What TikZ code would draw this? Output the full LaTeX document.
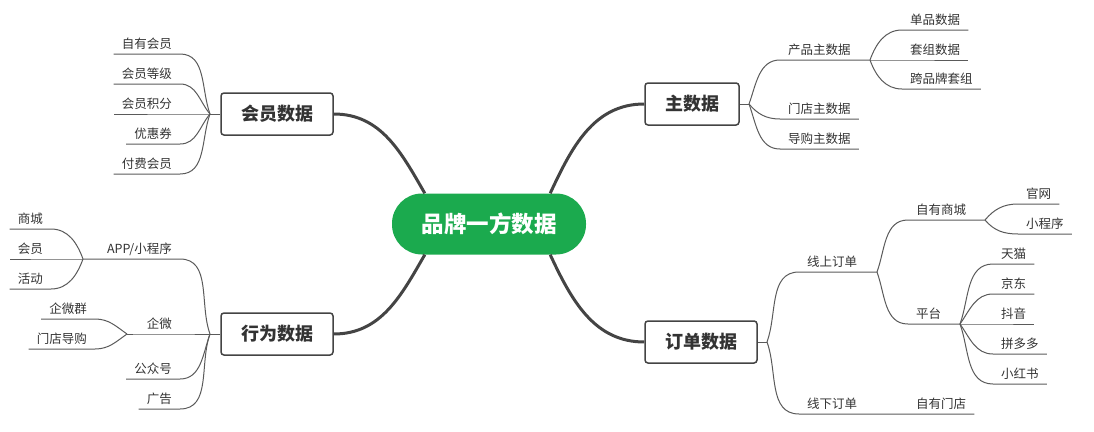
\documentclass[tikz,border=0pt]{standalone}
\usepackage{fontspec}
\setmainfont{Noto Sans CJK SC}
\definecolor{brandgreen}{RGB}{27,170,78}
\definecolor{trunkgray}{RGB}{68,68,68}
\definecolor{linegray}{RGB}{90,90,90}
\definecolor{textgray}{RGB}{51,51,51}
\begin{document}
\begin{tikzpicture}[x=1pt,y=1pt]
\useasboundingbox (0,0) rectangle (1094,-431);

\tikzset{root/.style = {fill=brandgreen, text=white, rounded corners=30pt, minimum width=194pt, minimum height=61pt, font=\bfseries\fontsize{22.5}{26}\selectfont}}
\tikzset{topic/.style = {draw=trunkgray, line width=1.5pt, fill=white, rounded corners=3pt, inner xsep=20pt, minimum height=42pt, text=textgray, font=\bfseries\fontsize{18}{21}\selectfont}}
\tikzset{leaf/.style = {inner xsep=8pt, inner ysep=3.75pt, text height=9pt, text depth=1.5pt, text=textgray, font=\fontsize{12.5}{15}\selectfont}}
\tikzset{lleaf/.style = {leaf, anchor=south east}}
\tikzset{rleaf/.style = {leaf, anchor=south west}}
\tikzset{trunk/.style = {draw=trunkgray, line width=3pt}}
\tikzset{branch/.style = {draw=linegray, line width=1pt}}
\tikzset{lup/.style = {out=110, in=0}}
\tikzset{ldown/.style = {out=-110, in=0}}
\tikzset{rup/.style = {out=70, in=180}}
\tikzset{rdown/.style = {out=-70, in=180}}

% main topics
\node[root] (root) at (489,-224) {品牌一方数据};
\node[topic] (member) at (277,-114) {会员数据};
\node[topic] (master) at (692,-104) {主数据};
\node[topic] (behavior) at (277,-334) {行为数据};
\node[topic] (order) at (701,-342) {订单数据};

% junctions
\coordinate (jmember) at (210,-114);
\coordinate (jmaster) at (749,-104);
\coordinate (jproduct) at (870,-60);
\coordinate (jbehavior) at (210,-334);
\coordinate (japp) at (83,-259);
\coordinate (jwecom) at (127,-334);
\coordinate (jorder) at (767,-342);
\coordinate (jonline) at (877,-272);
\coordinate (jownmall) at (985,-220);
\coordinate (jplatform) at (960,-324);

% member leaves
\node[lleaf] (ownmem) at (180,-54) {自有会员};
\node[lleaf] (level) at (180,-84) {会员等级};
\node[lleaf] (points) at (180,-114) {会员积分};
\node[lleaf] (coupon) at (180,-144) {优惠券};
\node[lleaf] (paid) at (180,-174) {付费会员};

% master leaves
\node[rleaf] (product) at (780,-60) {产品主数据};
\node[rleaf] (store) at (780,-119) {门店主数据};
\node[rleaf] (guide) at (780,-149) {导购主数据};
\node[rleaf] (single) at (902,-30) {单品数据};
\node[rleaf] (combo) at (902,-60) {套组数据};
\node[rleaf] (cross) at (902,-89) {跨品牌套组};

% behavior leaves
\node[lleaf] (app) at (180,-259) {APP/小程序};
\node[lleaf] (wecom) at (180,-334) {企微};
\node[lleaf] (official) at (180,-379) {公众号};
\node[lleaf] (ads) at (180,-409) {广告};
\node[lleaf] (mall) at (51,-229) {商城};
\node[lleaf] (memb) at (51,-259) {会员};
\node[lleaf] (event) at (51,-289) {活动};
\node[lleaf] (wgroup) at (95,-319) {企微群};
\node[lleaf] (wguide) at (95,-349) {门店导购};

% order leaves
\node[rleaf] (online) at (799,-272) {线上订单};
\node[rleaf] (offline) at (799,-414) {线下订单};
\node[rleaf] (ownstore) at (908,-414) {自有门店};
\node[rleaf] (ownmall) at (908,-220) {自有商城};
\node[rleaf] (platform) at (908,-324) {平台};
\node[rleaf] (web) at (1018,-204) {官网};
\node[rleaf] (mini) at (1018,-234) {小程序};
\node[rleaf] (tmall) at (993,-264) {天猫};
\node[rleaf] (jd) at (993,-294) {京东};
\node[rleaf] (douyin) at (993,-324) {抖音};
\node[rleaf] (pdd) at (993,-354) {拼多多};
\node[rleaf] (xhs) at (993,-384) {小红书};

% trunks
\draw[trunk] (member.east) to[out=0, in=120] ([xshift=33pt]root.north west);
\draw[trunk] ([xshift=-36pt]root.north east) to[out=65, in=180] (master.west);
\draw[trunk] (behavior.east) to[out=0, in=240] ([xshift=33pt]root.south west);
\draw[trunk] ([xshift=-36pt]root.south east) to[out=-65, in=180] (order.west);

% member branches
\draw[branch] (member.west) -- (jmember);
\draw[branch] (jmember) to[lup] (ownmem.south east) -- (ownmem.south west);
\draw[branch] (jmember) to[out=130, in=0] (level.south east) -- (level.south west);
\draw[branch] (jmember) -- (points.south east) -- (points.south west);
\draw[branch] (jmember) to[out=-130, in=0] (coupon.south east) -- (coupon.south west);
\draw[branch] (jmember) to[ldown] (paid.south east) -- (paid.south west);

% master branches
\draw[branch] (master.east) -- (jmaster);
\draw[branch] (jmaster) to[rup] (product.south west) -- (product.south east) -- (jproduct);
\draw[branch] (jmaster) to[out=-50, in=180] (store.south west) -- (store.south east);
\draw[branch] (jmaster) to[rdown] (guide.south west) -- (guide.south east);
\draw[branch] (jproduct) to[rup] (single.south west) -- (single.south east);
\draw[branch] (jproduct) -- (combo.south west) -- (combo.south east);
\draw[branch] (jproduct) to[rdown] (cross.south west) -- (cross.south east);

% behavior branches
\draw[branch] (behavior.west) -- (jbehavior);
\draw[branch] (jbehavior) to[lup] (app.south east) -- (app.south west) -- (japp);
\draw[branch] (jbehavior) -- (wecom.south east) -- (wecom.south west) -- (jwecom);
\draw[branch] (jbehavior) to[ldown] (official.south east) -- (official.south west);
\draw[branch] (jbehavior) to[ldown] (ads.south east) -- (ads.south west);
\draw[branch] (japp) to[lup] (mall.south east) -- (mall.south west);
\draw[branch] (japp) -- (memb.south east) -- (memb.south west);
\draw[branch] (japp) to[ldown] (event.south east) -- (event.south west);
\draw[branch] (jwecom) to[out=145, in=0] (wgroup.south east) -- (wgroup.south west);
\draw[branch] (jwecom) to[out=-145, in=0] (wguide.south east) -- (wguide.south west);

% order branches
\draw[branch] (order.east) -- (jorder);
\draw[branch] (jorder) to[rup] (online.south west) -- (online.south east) -- (jonline);
\draw[branch] (jorder) to[rdown] (offline.south west) -- (offline.south east) -- (ownstore.south west) -- (ownstore.south east);
\draw[branch] (jonline) to[rup] (ownmall.south west) -- (ownmall.south east) -- (jownmall);
\draw[branch] (jonline) to[rdown] (platform.south west) -- (platform.south east) -- (jplatform);
\draw[branch] (jownmall) to[out=50, in=180] (web.south west) -- (web.south east);
\draw[branch] (jownmall) to[out=-50, in=180] (mini.south west) -- (mini.south east);
\draw[branch] (jplatform) to[rup] (tmall.south west) -- (tmall.south east);
\draw[branch] (jplatform) to[out=55, in=180] (jd.south west) -- (jd.south east);
\draw[branch] (jplatform) -- (douyin.south west) -- (douyin.south east);
\draw[branch] (jplatform) to[out=-55, in=180] (pdd.south west) -- (pdd.south east);
\draw[branch] (jplatform) to[rdown] (xhs.south west) -- (xhs.south east);
\end{tikzpicture}
\end{document}
